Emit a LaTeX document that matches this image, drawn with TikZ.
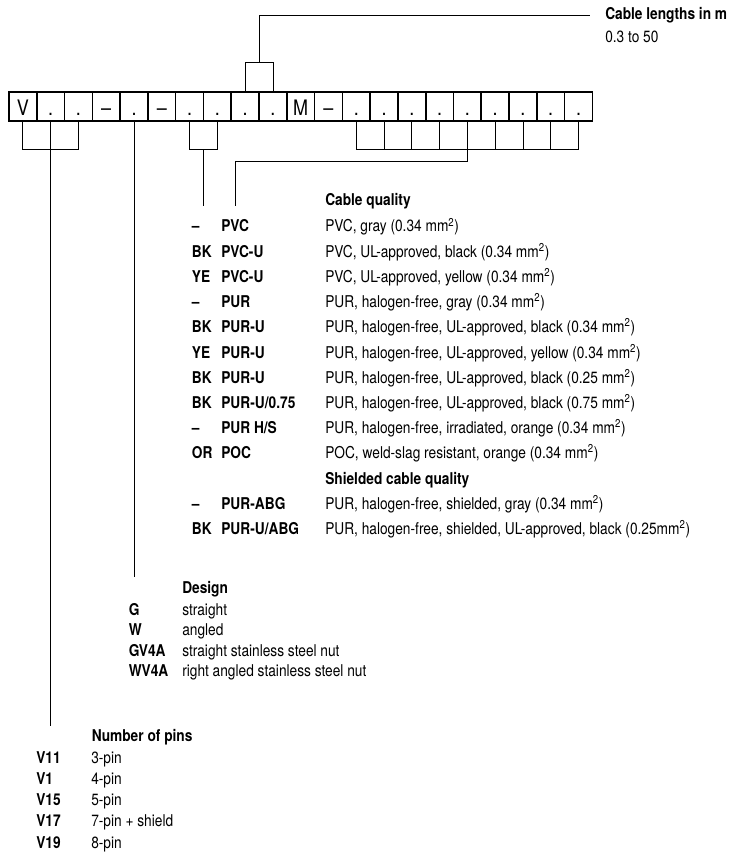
\documentclass[tikz,border=0pt]{standalone}
\usepackage{fontspec}
\setmainfont{TeX Gyre Heros}[FakeStretch=0.843]
\usetikzlibrary{calc, positioning}
\newcommand{\mmsq}{mm\textsuperscript{2}}

\begin{document}
\begin{tikzpicture}[x=0.75pt, y=-0.75pt,
  cell/.style={draw, line width=1.2pt, minimum width=20.83pt, minimum height=21.75pt,
    inner sep=0pt, outer sep=0pt, text height=13.5pt, text depth=0pt,
    font=\fontsize{16}{16}\selectfont},
  txt/.style={anchor=base west, inner sep=0pt, font=\fontsize{12.2}{14}\selectfont},
  hdr/.style={txt, font=\fontsize{12.2}{14}\selectfont\bfseries},
  link/.style={line width=0.6pt}]
  \useasboundingbox (0,0) rectangle (735,855);

  % Order code cells
  \foreach \t [count=\i from 0] in {V,{.},{.},–,{.},–,{.},{.},{.},{.},M,–,{.},{.},{.},{.},{.},{.},{.},{.},{.}}
    \node[cell] (c\i) at ({9+27.78*(\i+0.5)},106.5) {\t};

  % Cable length
  \node[hdr, anchor=west] (len) at (605,15) {Cable lengths in m};
  \node[txt] (lenval) at (605,42.7) {0.3 to 50};
  \draw[link] (c8.north) -- ++(0,-30) -| (c9.north);
  \draw[link, shorten >=11.25pt] (c8.north east) ++(0,-30) |- (len.west);

  % Cable quality
  \node[hdr] (qual) at (325,206) {Cable quality};
  \foreach \r/\c/\n/\d in {
      0/–/PVC/{PVC, gray (0.34 \mmsq)},
      1/BK/PVC-U/{PVC, UL-approved, black (0.34 \mmsq)},
      2/YE/PVC-U/{PVC, UL-approved, yellow (0.34 \mmsq)},
      3/–/PUR/{PUR, halogen-free, gray (0.34 \mmsq)},
      4/BK/PUR-U/{PUR, halogen-free, UL-approved, black (0.34 \mmsq)},
      5/YE/PUR-U/{PUR, halogen-free, UL-approved, yellow (0.34 \mmsq)},
      6/BK/PUR-U/{PUR, halogen-free, UL-approved, black (0.25 \mmsq)},
      7/BK/{PUR-U/0.75}/{PUR, halogen-free, UL-approved, black (0.75 \mmsq)},
      8/–/{PUR H/S}/{PUR, halogen-free, irradiated, orange (0.34 \mmsq)},
      9/OR/POC/{POC, weld-slag resistant, orange (0.34 \mmsq)},
      11/–/PUR-ABG/{PUR, halogen-free, shielded, gray (0.34 \mmsq)},
      12/BK/{PUR-U/ABG}/{PUR, halogen-free, shielded, UL-approved, black (0.25\mmsq)}} {
    \node[hdr] (qc\r) at (191.7,{232+25.2*\r}) {\c};
    \node[hdr] (qn\r) at (221,{232+25.2*\r}) {\n};
    \node[txt] (qd\r) at (325,{232+25.2*\r}) {\d};
  }
  \node[hdr] (shield) at (325,484) {Shielded cable quality};

  \draw[link] (c6.south) -- ++(0,28.5) -| (c7.south);
  \draw[link] (c6.south east) ++(0,28.5) -- (c6.south east |- qual.base);
  \foreach \i in {12,...,20}
    \draw[link] (c\i.south) -- ++(0,28.5) coordinate (b\i);
  \draw[link] (b12) -- (b20);
  \coordinate (qtap) at (235.7,206);
  \draw[link] (b16) -- ++(0,11.7) -| (qtap);

  % Design
  \node[hdr] (design) at (182,593) {Design};
  \foreach \r/\c/\d in {0/G/straight, 1/W/angled, 2/GV4A/straight stainless steel nut,
      3/WV4A/right angled stainless steel nut} {
    \node[hdr] (dc\r) at (128.5,{615+20.6*\r}) {\c};
    \node[txt] (dd\r) at (182,{615+20.6*\r}) {\d};
  }
  \draw[link] (c4.south) -- ([yshift=2.5pt]c4.south |- design.north);

  % Number of pins
  \node[hdr] (pins) at (91.5,741.7) {Number of pins};
  \foreach \r/\c/\d in {0/V11/3-pin, 1/V1/4-pin, 2/V15/5-pin, 3/V17/7-pin + shield, 4/V19/8-pin} {
    \node[hdr] (pc\r) at (36,{763.3+21.2*\r}) {\c};
    \node[txt] (pd\r) at (91,{763.3+21.2*\r}) {\d};
  }
  \draw[link] (c0.south) -- ++(0,28.5) -| (c2.south);
  \draw[link] (c1.south) -- ([yshift=2.5pt]c1.south |- pins.north);
\end{tikzpicture}
\end{document}
